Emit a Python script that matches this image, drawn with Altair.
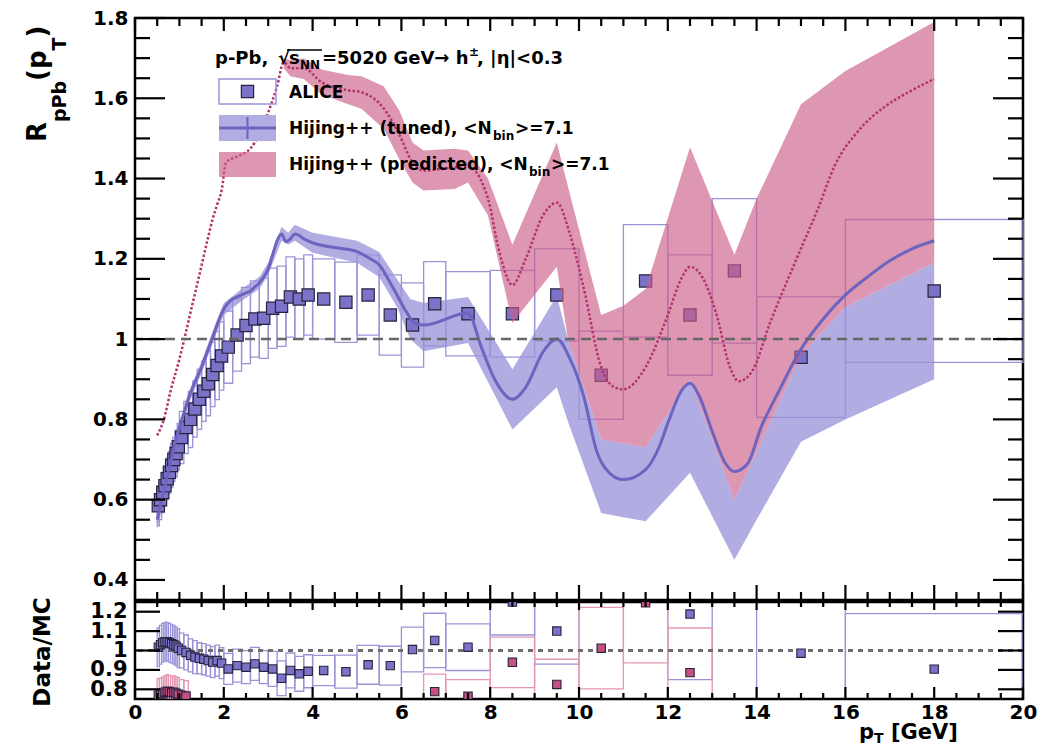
import altair as alt
import pandas as pd

FONT = "DejaVu Sans"

# ---------------- ALICE p-Pb, h+-, |eta|<0.3 ----------------
alice_edges = [0.5, 0.55, 0.6, 0.65, 0.7, 0.75, 0.8, 0.85, 0.9, 0.95, 1.0,
               1.1, 1.2, 1.3, 1.4, 1.5, 1.6, 1.7, 1.8, 1.9, 2.0,
               2.2, 2.4, 2.6, 2.8, 3.0, 3.2, 3.4, 3.6, 3.8, 4.0,
               4.5, 5.0, 5.5, 6.0, 6.5, 7.0, 8.0, 9.0, 10.0, 11.0,
               12.0, 13.0, 14.0, 16.0, 20.0]
alice_rppb = [0.585, 0.600, 0.618, 0.635, 0.652, 0.668, 0.685, 0.700, 0.715, 0.732,
              0.755, 0.780, 0.800, 0.826, 0.850, 0.870, 0.889, 0.912, 0.934, 0.958,
              0.980, 1.010, 1.034, 1.050, 1.052, 1.077, 1.082, 1.105, 1.100, 1.110,
              1.100, 1.092, 1.110, 1.060, 1.035, 1.088, 1.063,
              1.063, 1.110, 0.910, 1.145, 1.060, 1.170,
              0.955, 1.120]
alice_sys = [0.050, 0.050, 0.050, 0.050, 0.052, 0.052, 0.055, 0.055, 0.058, 0.058,
             0.065, 0.065, 0.070, 0.070, 0.075, 0.075, 0.080, 0.080, 0.085, 0.085,
             0.090, 0.090, 0.095, 0.095, 0.100, 0.100, 0.100, 0.100, 0.100, 0.100,
             0.100, 0.100, 0.100, 0.100, 0.105, 0.105, 0.105,
             0.108, 0.115, 0.110, 0.140, 0.150, 0.180,
             0.150, 0.178]

# ---------------- HIJING++ (tuned) ----------------
tuned_pt = [0.5, 0.6, 0.7, 0.8, 0.9, 1.0, 1.1, 1.2, 1.3, 1.4,
            1.5, 1.6, 1.7, 1.8, 1.9, 2.0, 2.1, 2.2, 2.3, 2.4,
            2.5, 2.6, 2.7, 2.8, 2.9, 3.0, 3.1, 3.2, 3.3, 3.4,
            3.5, 3.6, 3.7, 3.8, 4.0, 4.5, 5.0, 5.3, 5.5, 5.7,
            5.9, 6.1, 6.3, 6.5, 7.5, 7.8, 8.1, 8.5, 8.8, 9.2,
            9.5, 9.8, 10.1, 10.4, 10.7, 11.0, 11.5, 11.8, 12.0, 12.3,
            12.5, 12.7, 13.0, 13.3, 13.5, 13.8, 14.1, 14.5, 15.0, 15.5,
            16.0, 16.5, 17.0, 17.5, 18.0]
tuned_r = [0.550, 0.600, 0.645, 0.690, 0.740, 0.780, 0.815, 0.850, 0.880, 0.905,
           0.930, 0.960, 0.990, 1.020, 1.050, 1.075, 1.090, 1.100, 1.105, 1.110,
           1.115, 1.120, 1.130, 1.140, 1.155, 1.175, 1.210, 1.245, 1.262, 1.243,
           1.250, 1.262, 1.258, 1.250, 1.240, 1.228, 1.218, 1.200, 1.185, 1.150,
           1.110, 1.070, 1.040, 1.035, 1.065, 0.980, 0.900, 0.850, 0.880, 0.970,
           1.000, 0.950, 0.860, 0.720, 0.665, 0.650, 0.675, 0.730, 0.790, 0.870,
           0.890, 0.860, 0.770, 0.690, 0.670, 0.690, 0.780, 0.870, 0.975, 1.050,
           1.110, 1.155, 1.195, 1.225, 1.245]
tuned_band_pt = [0.5, 0.7, 0.9, 1.2, 1.5, 1.8, 2.0, 2.4, 2.8, 3.0,
                 3.3, 3.45, 3.6, 4.0, 5.0, 5.5, 5.9, 6.2, 6.5, 7.5,
                 8.5, 9.5, 9.75, 10.5, 11.0, 11.5, 12.5, 13.5, 14.0, 15.0,
                 16.0, 18.0]
tuned_band_lo = [0.525, 0.625, 0.720, 0.835, 0.915, 1.005, 1.060, 1.095, 1.125, 1.160,
                 1.245, 1.235, 1.245, 1.215, 1.190, 1.155, 1.080, 1.000, 0.970, 0.990,
                 0.775, 0.880, 0.795, 0.567, 0.556, 0.546, 0.667, 0.450, 0.550, 0.744,
                 0.800, 0.900]
tuned_band_hi = [0.570, 0.665, 0.760, 0.865, 0.945, 1.035, 1.090, 1.125, 1.155, 1.190,
                 1.280, 1.265, 1.285, 1.265, 1.245, 1.217, 1.150, 1.100, 1.090, 1.105,
                 0.925, 1.108, 1.000, 0.750, 0.740, 0.730, 0.900, 0.600, 0.720, 0.960,
                 1.080, 1.190]

# ---------------- HIJING++ (predicted) ----------------
pred_pt = [0.5, 0.65, 0.8, 1.0, 1.3, 1.45, 1.65, 1.75, 1.85, 1.95,
           2.05, 2.3, 2.6, 2.8, 3.0, 3.2, 3.35, 3.5, 3.8, 4.2,
           4.8, 5.1, 5.6, 5.95, 6.25, 6.5, 7.0, 7.5, 7.95, 8.2,
           8.5, 8.8, 9.2, 9.5, 9.8, 10.1, 10.5, 10.8, 11.0, 11.5,
           12.0, 12.3, 12.5, 12.8, 13.1, 13.4, 13.6, 13.9, 14.3, 14.9,
           15.4, 15.75, 16.3, 16.9, 17.5, 18.0]
pred_r = [0.760, 0.800, 0.870, 0.950, 1.090, 1.160, 1.255, 1.300, 1.335, 1.370,
          1.440, 1.455, 1.475, 1.510, 1.565, 1.630, 1.690, 1.675, 1.675, 1.640,
          1.620, 1.615, 1.575, 1.510, 1.440, 1.420, 1.425, 1.430, 1.350, 1.220,
          1.135, 1.200, 1.310, 1.340, 1.260, 1.130, 0.930, 0.880, 0.875, 0.930,
          1.060, 1.150, 1.180, 1.150, 1.060, 0.930, 0.895, 0.920, 1.040, 1.200,
          1.330, 1.430, 1.520, 1.580, 1.620, 1.648]
pred_band_pt = [3.35, 3.5, 3.8, 4.2, 4.8, 5.1, 5.6, 5.95, 6.25, 6.5,
                7.2, 7.5, 7.95, 8.5, 9.5, 9.75, 10.5, 11.0, 11.5, 12.5,
                13.5, 14.0, 15.0, 16.0, 18.0]
pred_band_lo = [1.675, 1.655, 1.648, 1.610, 1.585, 1.574, 1.524, 1.449, 1.390, 1.370,
                1.374, 1.390, 1.308, 1.040, 1.180, 1.000, 0.750, 0.740, 0.730, 0.900,
                0.600, 0.720, 0.960, 1.080, 1.190]
pred_band_hi = [1.700, 1.695, 1.700, 1.672, 1.658, 1.655, 1.630, 1.570, 1.490, 1.470,
                1.474, 1.470, 1.400, 1.235, 1.490, 1.380, 1.060, 1.083, 1.125, 1.478,
                1.210, 1.350, 1.585, 1.668, 1.790]

# ---------------- Data/MC (per ALICE bin; None = outside the frame) ----------------
ratio_tuned = [1.017, 1.030, 1.040, 1.045, 1.045, 1.040, 1.035, 1.030, 1.022, 1.012,
               1.000, 0.990, 0.975, 0.966, 0.960, 0.955, 0.948, 0.940, 0.948, 0.935,
               0.905, 0.922, 0.914, 0.931, 0.914, 0.905, 0.857, 0.897, 0.880, 0.893,
               0.897, 0.891, 0.926, 0.922, 1.005, 1.052, 1.017,
               1.250, 1.100, None, None, 1.188, None,
               0.986, 0.904]
ratio_tuned_sys = [0.100, 0.100, 0.100, 0.100, 0.100, 0.100, 0.100, 0.100, 0.100, 0.100,
                   0.090, 0.090, 0.085, 0.085, 0.080, 0.080, 0.080, 0.080, 0.080, 0.080,
                   0.080, 0.085, 0.085, 0.085, 0.085, 0.090, 0.090, 0.090, 0.090, 0.085,
                   0.078, 0.085, 0.100, 0.100, 0.115, 0.140, 0.120,
                   0.170, 0.170, None, None, 0.338, None,
                   0.320, 0.286]
ratio_pred = [0.770, 0.772, 0.778, 0.785, 0.790, 0.788, 0.782, 0.785, 0.780, 0.775,
              0.770, 0.765, None, None, None, None, None, None, None, None,
              None, None, None, None, None, None, None, None, None, None,
              None, None, None, None, None, 0.788, 0.764,
              0.939, 0.825, 1.012, 1.246, 0.886, None,
              None, None]
ratio_pred_sys = [0.085, 0.085, 0.085, 0.085, 0.085, 0.085, 0.085, 0.085, 0.085, 0.085,
                  0.080, 0.080, None, None, None, None, None, None, None, None,
                  None, None, None, None, None, None, None, None, None, None,
                  None, None, None, None, None, 0.090, 0.086,
                  0.130, 0.130, 0.210, 0.310, 0.230, None,
                  None, None]

# ---------------- axes ----------------
x_major = [0, 2, 4, 6, 8, 10, 12, 14, 16, 18, 20]
x_minor = [i * 0.5 for i in range(41) if i % 4 != 0]
y_top_major = [0.4, 0.6, 0.8, 1.0, 1.2, 1.4, 1.6, 1.8]
y_top_minor = [round(0.35 + 0.05 * i, 2) for i in range(30)
               if round(0.35 + 0.05 * i, 2) not in y_top_major]
y_bot_major = [0.8, 0.9, 1.0, 1.1, 1.2]

W, H_TOP, H_BOT = 888, 582, 97

BLUE_BAND = "#b1ace2"
BLUE_LINE = "#6c64bf"
BOX_BLUE = "#9a93d8"
MARK_BLUE = "#7b73c7"
MARK_EDGE = "#28233f"
RED_BAND = "#cc5c86"
RED_OPACITY = 0.64
RED_LINE = "#b3336a"
BOX_RED = "#e397b2"
MARK_RED = "#c4517f"

XS = alt.Scale(domain=[0, 20], nice=False, zero=False)
YS_TOP = alt.Scale(domain=[0.35, 1.8], nice=False, zero=False)
YS_BOT = alt.Scale(domain=[0.75, 1.25], nice=False, zero=False)


def axis_style(values, size, pad):
    return alt.Axis(values=values, format=".1~f", title=None, labelFont=FONT,
                    labelFontWeight="bold", labelFontSize=size, labelColor="black",
                    labelPadding=pad, labelOverlap=False, labelFlush=False,
                    labelBound=False, ticks=False, tickSize=0, domain=False, grid=False)


Y_AX_TOP = axis_style(y_top_major, 20, 7)
Y_AX_BOT = axis_style(y_bot_major, 21, 8)
X_AX_BOT = axis_style(x_major, 20, 3)


def xt(f):
    return alt.X(f"{f}:Q", scale=XS, axis=None)


def yt(f):
    return alt.Y(f"{f}:Q", scale=YS_TOP, axis=Y_AX_TOP)


def xb(f):
    return alt.X(f"{f}:Q", scale=XS, axis=X_AX_BOT)


def yb(f):
    return alt.Y(f"{f}:Q", scale=YS_BOT, axis=Y_AX_BOT)


def binned(values, errs):
    rows = []
    for lo, hi, v, e in zip(alice_edges[:-1], alice_edges[1:], values, errs):
        if v is None:
            continue
        rows.append({"lo": lo, "hi": hi, "pt": (lo + hi) / 2, "v": v,
                     "elo": v - e, "ehi": v + e})
    return pd.DataFrame(rows)


ONE = alt.Data(values=[{}])


def txt(s, x, y, size, angle=0, align="left", color="black"):
    return alt.Chart(ONE).mark_text(
        text=s, font=FONT, fontWeight="bold", fontSize=size, angle=angle,
        align=align, baseline="alphabetic", color=color
    ).encode(x=alt.value(x), y=alt.value(y))


def frame_ticks(xenc, yenc, h, ymaj, ymin, ylen, xlen_bot, xlen_top):
    layers = []
    for vals, ln in ((ymaj, ylen[0]), (ymin, ylen[1])):
        if not vals:
            continue
        base = alt.Chart(pd.DataFrame({"v": vals})).mark_rule(color="black", strokeWidth=2.2)
        layers.append(base.encode(y=yenc("v"), x=alt.value(0), x2=alt.value(ln)))
        layers.append(base.encode(y=yenc("v"), x=alt.value(W - ln), x2=alt.value(W)))
    for vals, lb, lt in ((x_major, xlen_bot[0], xlen_top[0]), (x_minor, xlen_bot[1], xlen_top[1])):
        base = alt.Chart(pd.DataFrame({"v": vals})).mark_rule(color="black", strokeWidth=2.2)
        layers.append(base.encode(x=xenc("v"), y=alt.value(h - lb), y2=alt.value(h)))
        layers.append(base.encode(x=xenc("v"), y=alt.value(0), y2=alt.value(lt)))
    return layers


alice_df = binned(alice_rppb, alice_sys)
tuned_band_df = pd.DataFrame({"pt": tuned_band_pt, "lo": tuned_band_lo, "hi": tuned_band_hi})
pred_band_df = pd.DataFrame({"pt": pred_band_pt, "lo": pred_band_lo, "hi": pred_band_hi})
tuned_df = pd.DataFrame({"pt": tuned_pt, "r": tuned_r})
pred_df = pd.DataFrame({"pt": pred_pt, "r": pred_r})

# ---------------- upper panel: R_pPb ----------------
top_layers = [
    alt.Chart(tuned_band_df).mark_area(color=BLUE_BAND, opacity=1)
    .encode(x=xt("pt"), y=yt("lo"), y2="hi"),
    alt.Chart(alice_df).mark_rect(fillOpacity=0, stroke=BOX_BLUE, strokeWidth=1.3)
    .encode(x=xt("lo"), x2="hi", y=yt("elo"), y2="ehi"),
    alt.Chart(alice_df).mark_square(size=150, fill=MARK_BLUE, stroke=MARK_EDGE,
                                    strokeWidth=1.2, opacity=1)
    .encode(x=xt("pt"), y=yt("v")),
    alt.Chart(pred_band_df).mark_area(color=RED_BAND, opacity=RED_OPACITY)
    .encode(x=xt("pt"), y=yt("lo"), y2="hi"),
    alt.Chart(pred_df).mark_line(color=RED_LINE, strokeWidth=2.5, strokeDash=[2.5, 2],
                                 interpolate="monotone")
    .encode(x=xt("pt"), y=yt("r")),
    alt.Chart(tuned_df).mark_line(color=BLUE_LINE, strokeWidth=3, interpolate="monotone")
    .encode(x=xt("pt"), y=yt("r")),
    alt.Chart(pd.DataFrame({"v": [1.0]})).mark_rule(color="#666666", strokeWidth=2.5,
                                                     strokeDash=[10, 6])
    .encode(y=yt("v")),
]
top_layers += frame_ticks(xt, yt, H_TOP, y_top_major, y_top_minor, (30, 15), (15, 8), (13, 8))

# legend
top_layers += [
    alt.Chart(ONE).mark_rect(fillOpacity=0, stroke=BOX_BLUE, strokeWidth=1.5)
    .encode(x=alt.value(84), x2=alt.value(141), y=alt.value(61), y2=alt.value(86)),
    alt.Chart(ONE).mark_square(size=150, fill=MARK_BLUE, stroke=MARK_EDGE, strokeWidth=1.2, opacity=1)
    .encode(x=alt.value(112.5), y=alt.value(73.5)),
    alt.Chart(ONE).mark_rect(color=BLUE_BAND, opacity=1)
    .encode(x=alt.value(84), x2=alt.value(141), y=alt.value(97), y2=alt.value(123)),
    alt.Chart(ONE).mark_rule(color=BLUE_LINE, strokeWidth=3)
    .encode(x=alt.value(84), x2=alt.value(141), y=alt.value(110)),
    alt.Chart(ONE).mark_rule(color=BLUE_LINE, strokeWidth=2)
    .encode(x=alt.value(112.5), y=alt.value(99), y2=alt.value(121)),
    alt.Chart(ONE).mark_rect(color=RED_BAND, opacity=RED_OPACITY)
    .encode(x=alt.value(84), x2=alt.value(141), y=alt.value(134), y2=alt.value(159)),
    txt("ALICE", 154, 80, 17),
    txt("Hijing++ (tuned), <N", 154, 116, 17),
    txt("bin", 358, 122, 12),
    txt(">=7.1", 380, 116, 17),
    txt("Hijing++ (predicted), <N", 154, 152, 17),
    txt("bin", 394, 158, 12),
    txt(">=7.1", 416, 152, 17),
    # collision system header
    txt("p-Pb,", 80, 46, 18),
    txt("\u221a", 143, 46, 18),
    txt("s", 154, 46, 18),
    txt("NN", 165, 51, 12),
    alt.Chart(ONE).mark_rule(color="black", strokeWidth=1.5)
    .encode(x=alt.value(152), x2=alt.value(187), y=alt.value(32)),
    txt("=5020 GeV\u2192 h", 187, 46, 18),
    txt("\u00b1", 334, 38, 12),
    txt(", |\u03b7|<0.3", 342, 46, 18),
    # y title R_pPb(p_T)
    txt("R", -89, 124, 26, angle=270),
    txt("pPb", -69, 104, 19, angle=270),
    txt("(p", -89, 63, 26, angle=270),
    txt("T", -69, 32.5, 19, angle=270),
    txt(")", -89, 19.5, 26, angle=270),
    # keeps the page origin fixed
    alt.Chart(ONE).mark_rule(color="white", strokeWidth=1)
    .encode(x=alt.value(-132.5), x2=alt.value(-132.5), y=alt.value(-15.5), y2=alt.value(-14)),
]

top = alt.layer(*top_layers).properties(width=W, height=H_TOP)

# ---------------- lower panel: Data/MC ----------------
rt_df = binned(ratio_tuned, ratio_tuned_sys)
rp_df = binned(ratio_pred, ratio_pred_sys)

bot_layers = [
    alt.Chart(rt_df).mark_rect(fillOpacity=0, stroke=BOX_BLUE, strokeWidth=1.3, clip=True)
    .encode(x=xb("lo"), x2="hi", y=yb("elo"), y2="ehi"),
    alt.Chart(rp_df).mark_rect(fillOpacity=0, stroke=BOX_RED, strokeWidth=1.3, clip=True)
    .encode(x=xb("lo"), x2="hi", y=yb("elo"), y2="ehi"),
    alt.Chart(pd.DataFrame({"v": [1.0]})).mark_rule(color="#6e6e6e", strokeWidth=3,
                                                     strokeDash=[5, 5])
    .encode(y=yb("v")),
    alt.Chart(rt_df).mark_square(size=70, fill=MARK_BLUE, stroke=MARK_EDGE, strokeWidth=1.1,
                                 opacity=1, clip=True)
    .encode(x=xb("pt"), y=yb("v")),
    alt.Chart(rp_df).mark_square(size=70, fill=MARK_RED, stroke=MARK_EDGE, strokeWidth=1.1,
                                 opacity=1, clip=True)
    .encode(x=xb("pt"), y=yb("v")),
]
bot_layers += frame_ticks(xb, yb, H_BOT, y_bot_major, [], (25, 0), (12, 6), (8, 5))
bot_layers += [
    txt("Data/MC", -85, 50, 23, angle=270, align="center"),
    txt("p", 724, 137, 21),
    txt("T", 739, 141, 14),
    txt("[GeV]", 756, 137, 21),
]

bottom = alt.layer(*bot_layers).properties(width=W, height=H_BOT)

chart = alt.vconcat(top, bottom, spacing=2, bounds="flush").configure_view(
    stroke="black", strokeWidth=2.5
).properties(padding=0, background="white")

chart.save("out.html", embed_options={"renderer": "svg", "actions": False})
